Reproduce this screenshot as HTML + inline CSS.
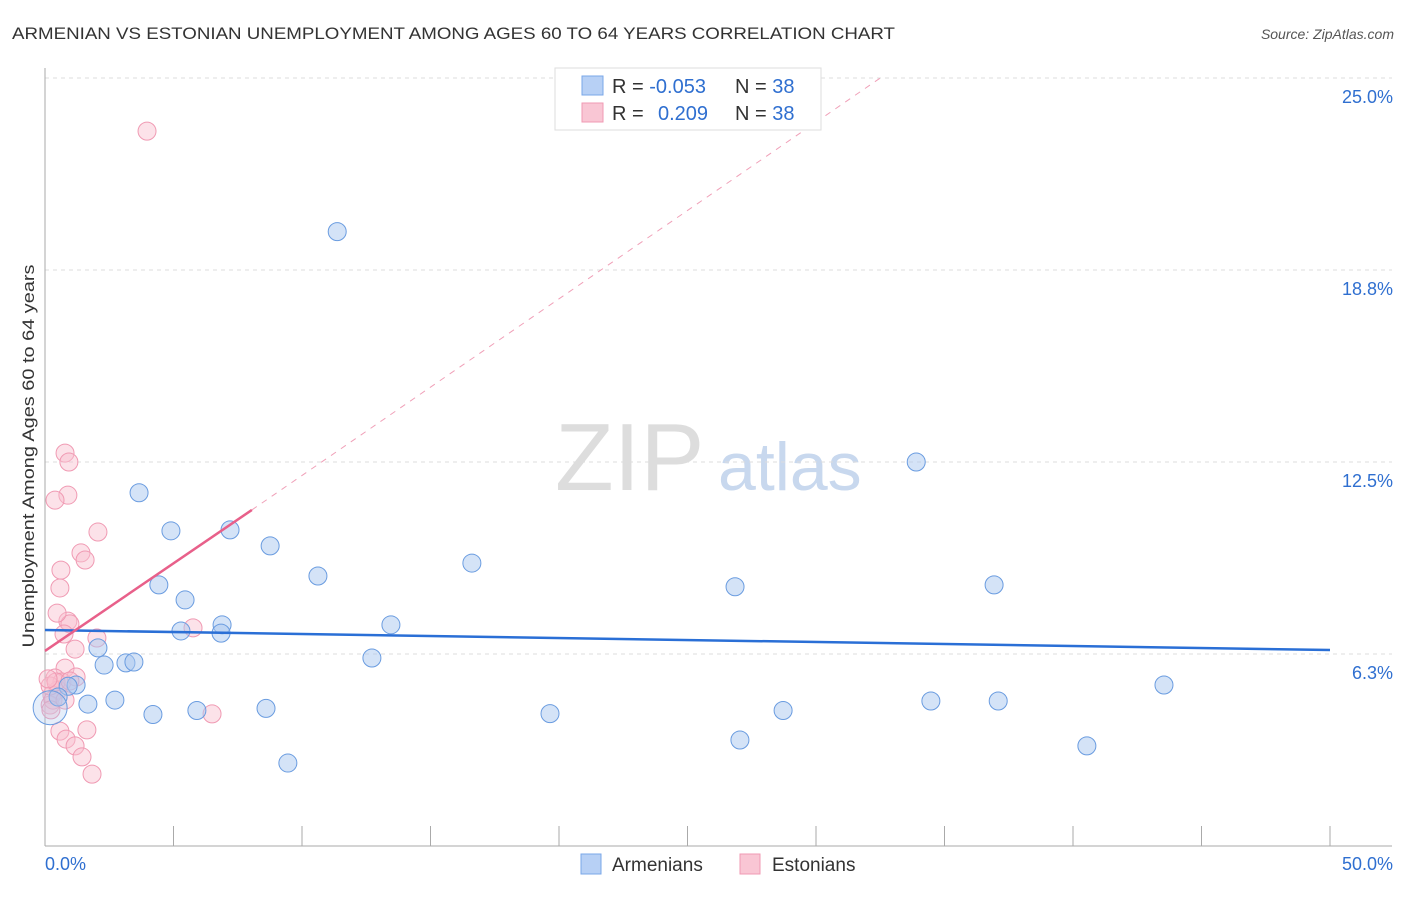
<!DOCTYPE html>
<html><head><meta charset="utf-8"><style>
body{margin:0;background:#fff;font-family:"Liberation Sans",sans-serif;}
svg text{font-family:"Liberation Sans",sans-serif;}
</style></head><body>
<svg id="c" width="1406" height="892">
<text x="12" y="39" font-size="17" fill="#333" textLength="883" lengthAdjust="spacingAndGlyphs">ARMENIAN VS ESTONIAN UNEMPLOYMENT AMONG AGES 60 TO 64 YEARS CORRELATION CHART</text>
<text x="1394" y="39" font-size="14" fill="#555" font-style="italic" text-anchor="end">Source: ZipAtlas.com</text>
<text x="34" y="456" font-size="17" fill="#333" text-anchor="middle" textLength="383" lengthAdjust="spacingAndGlyphs" transform="rotate(-90 34 456)">Unemployment Among Ages 60 to 64 years</text>
<text x="555" y="490" font-size="96" fill="#ddd" font-family="Liberation Serif">ZIP</text>
<text x="718" y="490" font-size="68" fill="#c8d8ee">atlas</text>
<g id="grid"></g><g id="pts"></g><g id="lines"></g>
<g>
<rect x="555" y="68" width="266" height="62" fill="#fff" stroke="#ddd"/>
<rect x="582" y="76" width="21" height="19" fill="#b7d0f5" stroke="#7aa7e8"/>
<rect x="582" y="103" width="21" height="19" fill="#f9c6d4" stroke="#f09ab3"/>
<text x="612" y="93" font-size="20" fill="#333">R = <tspan fill="#2f6fd0">-0.053</tspan><tspan x="735">N = </tspan><tspan fill="#2f6fd0">38</tspan></text>
<text x="612" y="120" font-size="20" fill="#333">R = <tspan x="658" fill="#2f6fd0">0.209</tspan><tspan x="735">N = </tspan><tspan fill="#2f6fd0">38</tspan></text>
</g>
<g>
<rect x="581" y="854" width="20" height="20" fill="#b7d0f5" stroke="#7aa7e8"/>
<text x="612" y="871" font-size="19" fill="#333">Armenians</text>
<rect x="740" y="854" width="20" height="20" fill="#f9c6d4" stroke="#f09ab3"/>
<text x="772" y="871" font-size="19" fill="#333">Estonians</text>
</g>
</svg>
<script>
const yTicks=[6.25,12.5,18.75,25];
const yTickLabels=["6.3%","12.5%","18.8%","25.0%"];
const xTickLabels=["0.0%","50.0%"];
const armX=[11.37,33.9,3.66,4.9,7.2,8.76,16.61,10.62,4.43,26.85,36.93,5.45,6.89,13.46,5.29,6.85,2.06,3.15,3.46,2.3,12.72,1.21,43.54,0.9,2.72,1.67,0.51,0.2,4.2,5.91,8.6,19.65,28.72,34.47,37.09,27.04,40.54,9.45];
const armY=[20.0,12.5,11.5,10.26,10.29,9.77,9.21,8.79,8.5,8.44,8.5,8.01,7.2,7.2,7.0,6.93,6.45,5.96,5.99,5.89,6.12,5.24,5.24,5.2,4.75,4.62,4.85,4.5,4.28,4.41,4.48,4.31,4.41,4.72,4.72,3.45,3.26,2.7];
const estX=[3.97,0.78,0.93,0.89,0.39,2.06,1.4,1.56,0.62,0.58,0.89,0.97,0.47,0.74,2.02,5.76,1.17,0.78,0.39,0.66,1.21,0.51,0.27,0.2,0.31,0.23,0.58,0.82,1.17,1.44,1.83,6.5,1.63,0.2,0.43,0.97,0.12,0.78];
const estY=[23.27,12.79,12.5,11.42,11.26,10.22,9.54,9.31,8.98,8.4,7.32,7.23,7.58,6.9,6.77,7.1,6.41,5.79,5.47,5.34,5.5,5.08,4.92,4.59,4.75,4.43,3.74,3.48,3.26,2.9,2.34,4.3,3.78,5.21,5.34,5.37,5.44,4.75];
const blueLine=[[0,7.03],[50,6.38]];
const pinkLine=[[0,6.35],[8.05,10.94]];
const pinkDash=[[8.05,10.94],[32.5,25.0]];
const X=v=>45+v/50*1285, Y=v=>846-v/6.25*192;
const NS="http://www.w3.org/2000/svg";
function mk(t,a,p){const e=document.createElementNS(NS,t);for(const k in a)e.setAttribute(k,a[k]);p.appendChild(e);return e;}
const g=document.getElementById('grid');
yTicks.forEach((v,i)=>{
 const l=mk('line',{x1:45,x2:1392,y1:Y(v),y2:Y(v),stroke:'#ddd','stroke-dasharray':'4,4'},g);
 
 
 const t=mk('text',{x:1393,y:Y(v)+25,'font-size':18,fill:'#2f6fd0','text-anchor':'end'},g);t.textContent=yTickLabels[i];
 
 
});
mk('line',{x1:45,x2:45,y1:68,y2:846,stroke:'#aaa'},g);
mk('line',{x1:45,x2:1392,y1:846,y2:846,stroke:'#aaa'},g);
for(let i=0;i<=10;i++){const x=X(i*5);mk('line',{x1:x,x2:x,y1:826,y2:846,stroke:'#aaa'},g);}
[0,50].forEach((v,i)=>{const t=mk('text',{x:i?1393:45,y:870,'font-size':18,fill:'#2f6fd0','text-anchor':i?'end':'start'},g);t.textContent=xTickLabels[i];
 
 });
const p=document.getElementById('pts');
estX.forEach((x,i)=>{const c=mk('circle',{cx:X(x),cy:Y(estY[i]),r:9,fill:'rgba(249,190,207,0.45)',stroke:'#f09ab3','stroke-width':1},p);
 
 });
armX.forEach((x,i)=>{const c=mk('circle',{cx:X(x),cy:Y(armY[i]),r:i==27?17:9,fill:i==27?'rgba(170,200,240,0.3)':'rgba(170,200,240,0.5)',stroke:'#6a9ce0','stroke-width':1},p);
 
 });
const L=document.getElementById('lines');
function ln(a,s,w,d,n){const e=mk('line',{x1:X(a[0][0]),y1:Y(a[0][1]),x2:X(a[1][0]),y2:Y(a[1][1]),stroke:s,'stroke-width':w},L);if(d)e.setAttribute('stroke-dasharray',d);
 
 }
ln(blueLine,'#2a6fd6',2.5,null,'armenian-trendline');
ln(pinkLine,'#e8608a',2.5,null,'estonian-trendline');
ln(pinkDash,'#f0a0b8',1,'6,6','estonian-trend-extension');
</script>
</body></html>
